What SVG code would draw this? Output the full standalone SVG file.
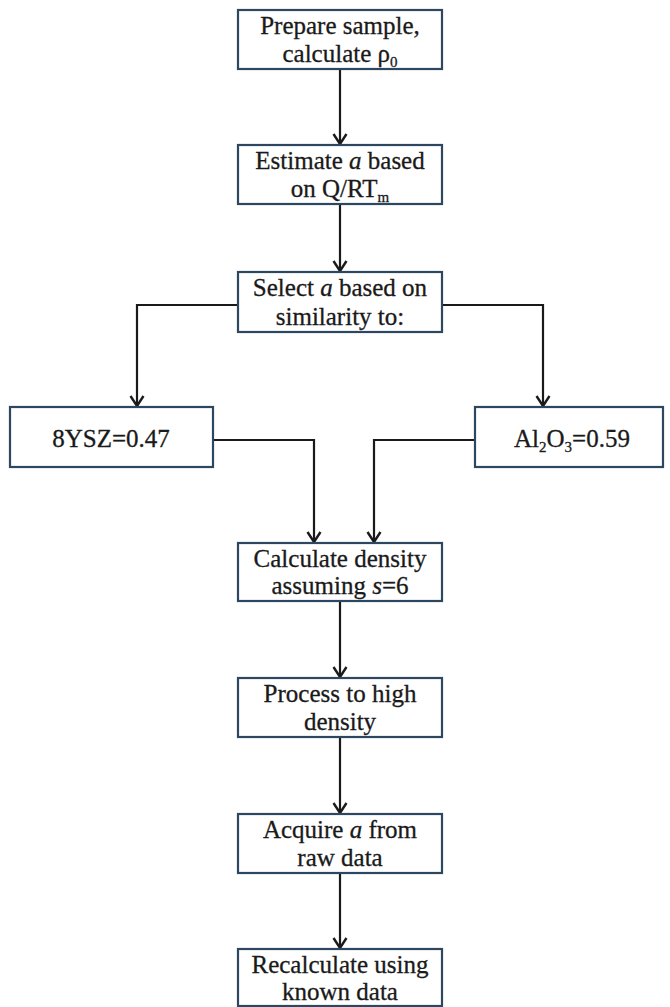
<svg xmlns="http://www.w3.org/2000/svg" width="670" height="1007" viewBox="0 0 670 1007">
<style>
.box{fill:#ffffff;stroke:#2e4760;stroke-width:2.2}
.t{font-family:"Liberation Serif",serif;font-size:25px;fill:#1a1a1a;stroke:#1a1a1a;stroke-width:0.3;text-anchor:middle}
.i{font-style:italic}
.c{fill:none;stroke:#1a1a1a;stroke-width:2.2}
</style>
<defs>
<marker id="arr" viewBox="-12 -8 14 16" markerWidth="14" markerHeight="16" refX="0" refY="0" orient="auto" markerUnits="userSpaceOnUse">
<path d="M-10,-6.5 L0,0 L-10,6.5" fill="none" stroke="#1a1a1a" stroke-width="2.4"/>
</marker>
</defs>
<rect width="670" height="1007" fill="#ffffff"/>
<g id="connectors">
<path class="c" d="M340,69 V144" marker-end="url(#arr)"/>
<path class="c" d="M340,204 V271" marker-end="url(#arr)"/>
<path class="c" d="M238,305 H137 V406" marker-end="url(#arr)"/>
<path class="c" d="M442,305 H543 V406" marker-end="url(#arr)"/>
<path class="c" d="M213,440 H314 V542" marker-end="url(#arr)"/>
<path class="c" d="M475,440 H374 V542" marker-end="url(#arr)"/>
<path class="c" d="M340,601 V677" marker-end="url(#arr)"/>
<path class="c" d="M340,737 V813" marker-end="url(#arr)"/>
<path class="c" d="M340,873 V948" marker-end="url(#arr)"/>
</g>
<g id="n1">
<rect class="box" x="238" y="10" width="204" height="59"/>
<text class="t" x="340" y="34">Prepare sample,</text>
<text class="t" x="340" y="62">calculate ρ<tspan font-size="15" dy="5">0</tspan></text>
</g>
<g id="n2">
<rect class="box" x="238" y="145" width="204" height="59"/>
<text class="t" x="340" y="169">Estimate <tspan class="i">a</tspan> based</text>
<text class="t" x="340" y="197">on Q/RT<tspan font-size="15" dy="5">m</tspan></text>
</g>
<g id="n3">
<rect class="box" x="238" y="272" width="204" height="60"/>
<text class="t" x="340" y="296">Select <tspan class="i">a</tspan> based on</text>
<text class="t" x="340" y="325">similarity  to:</text>
</g>
<g id="n4">
<rect class="box" x="10" y="407" width="203" height="60"/>
<text class="t" x="111" y="447">8YSZ=0.47</text>
</g>
<g id="n5">
<rect class="box" x="475" y="407" width="188" height="60"/>
<text class="t" x="572" y="447">Al<tspan font-size="15" dy="5">2</tspan><tspan dy="-5">O</tspan><tspan font-size="15" dy="5">3</tspan><tspan dy="-5">=0.59</tspan></text>
</g>
<g id="n6">
<rect class="box" x="238" y="543" width="204" height="58"/>
<text class="t" x="340" y="567">Calculate  density</text>
<text class="t" x="340" y="594">assuming <tspan class="i">s</tspan>=6</text>
</g>
<g id="n7">
<rect class="box" x="238" y="678" width="204" height="59"/>
<text class="t" x="340" y="702">Process to high</text>
<text class="t" x="340" y="730">density</text>
</g>
<g id="n8">
<rect class="box" x="238" y="814" width="204" height="59"/>
<text class="t" x="340" y="838">Acquire <tspan class="i">a</tspan> from</text>
<text class="t" x="340" y="866">raw data</text>
</g>
<g id="n9">
<rect class="box" x="238" y="949" width="204" height="57"/>
<text class="t" x="340" y="973">Recalculate  using</text>
<text class="t" x="340" y="1000">known data</text>
</g>
</svg>
